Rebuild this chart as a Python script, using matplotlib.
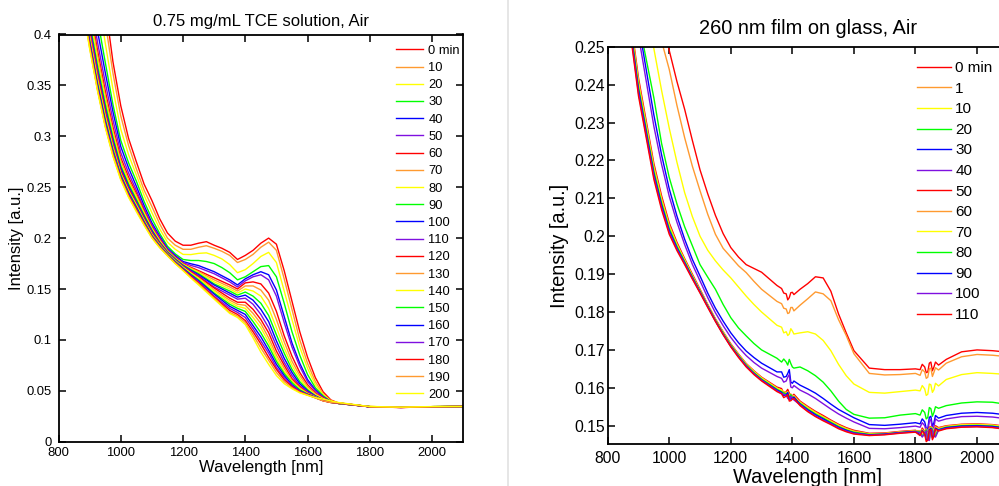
import numpy as np
import matplotlib.pyplot as plt
from matplotlib.lines import Line2D

plt.rcParams['font.family'] = ['Liberation Sans', 'DejaVu Sans']

# colour cycle used by both panels
line_colors = ['#ff0000', '#ff9a30', '#ffff00', '#00ff00', '#0000ff', '#7f10e0']

# ---- left panel: 0.75 mg/mL TCE solution ----
left_wavelength = [860, 900, 925, 950, 975, 1000, 1025, 1050, 1075, 1100, 1125, 1150, 1175,
                   1200, 1225, 1250, 1275, 1300, 1325, 1350, 1375, 1400, 1425, 1450, 1475,
                   1500, 1525, 1550, 1575, 1600, 1625, 1650, 1675, 1700, 1800, 1900, 2000, 2100]
left_labels = ['0 min', '10', '20', '30', '40', '50', '60', '70', '80', '90', '100',
               '110', '120', '130', '140', '150', '160', '170', '180', '190', '200']
left_intensity = [
    [0.62, 0.57, 0.49, 0.43, 0.373, 0.33, 0.298, 0.275, 0.253, 0.237, 0.219, 0.205, 0.197, 0.193, 0.193, 0.195, 0.1965, 0.193, 0.19, 0.186,
     0.179, 0.183, 0.188, 0.195, 0.2, 0.194, 0.168, 0.138, 0.108, 0.083, 0.063, 0.049, 0.041, 0.038, 0.0345, 0.034, 0.0344, 0.0346],
    [0.60, 0.537, 0.468, 0.413, 0.362, 0.32, 0.291, 0.268, 0.247, 0.231, 0.214, 0.2, 0.193, 0.189, 0.189, 0.191, 0.1925, 0.19, 0.187, 0.183,
     0.176, 0.179, 0.184, 0.191, 0.196, 0.188, 0.16, 0.13, 0.1, 0.077, 0.059, 0.047, 0.04, 0.0378, 0.0345, 0.0338, 0.0343, 0.0346],
    [0.58, 0.497, 0.441, 0.392, 0.346, 0.307, 0.282, 0.262, 0.242, 0.225, 0.209, 0.196, 0.189, 0.184, 0.1838, 0.185, 0.1855, 0.183, 0.1795, 0.174,
     0.166, 0.169, 0.175, 0.182, 0.186, 0.176, 0.148, 0.12, 0.093, 0.072, 0.056, 0.046, 0.04, 0.0377, 0.0346, 0.034, 0.0344, 0.0346],
    [0.56, 0.467, 0.416, 0.373, 0.331, 0.296, 0.274, 0.256, 0.236, 0.219, 0.2045, 0.192, 0.1845, 0.179, 0.178, 0.178, 0.177, 0.175, 0.171, 0.166,
     0.159, 0.162, 0.167, 0.172, 0.173, 0.162, 0.136, 0.108, 0.085, 0.066, 0.053, 0.045, 0.0395, 0.0376, 0.0344, 0.0339, 0.0344, 0.0346],
    [0.55, 0.452, 0.404, 0.363, 0.324, 0.29, 0.269, 0.251, 0.232, 0.215, 0.202, 0.19, 0.183, 0.177, 0.1748, 0.173, 0.170, 0.167, 0.163, 0.159,
     0.154, 0.16, 0.164, 0.167, 0.164, 0.149, 0.123, 0.097, 0.077, 0.061, 0.051, 0.044, 0.0393, 0.0375, 0.0343, 0.0338, 0.0343, 0.0346],
    [0.54, 0.438, 0.393, 0.353, 0.316, 0.284, 0.264, 0.247, 0.229, 0.213, 0.2005, 0.189, 0.182, 0.176, 0.1732, 0.171, 0.168, 0.165, 0.161, 0.157,
     0.152, 0.158, 0.162, 0.164, 0.159, 0.143, 0.117, 0.093, 0.074, 0.059, 0.05, 0.0435, 0.0392, 0.0375, 0.0344, 0.0339, 0.0344, 0.0346],
    [0.53, 0.429, 0.385, 0.345, 0.309, 0.279, 0.26, 0.244, 0.227, 0.211, 0.199, 0.188, 0.181, 0.175, 0.1713, 0.168, 0.1645, 0.161, 0.1575, 0.154,
     0.150, 0.156, 0.157, 0.155, 0.146, 0.128, 0.104, 0.084, 0.068, 0.056, 0.048, 0.043, 0.039, 0.0375, 0.0343, 0.0337, 0.0343, 0.0346],
    [0.52, 0.424, 0.380, 0.34, 0.305, 0.276, 0.257, 0.242, 0.2255, 0.21, 0.198, 0.1875, 0.1805, 0.1745, 0.1705, 0.167, 0.163, 0.159, 0.1555, 0.152,
     0.148, 0.153, 0.153, 0.149, 0.139, 0.12, 0.098, 0.079, 0.065, 0.054, 0.047, 0.0425, 0.039, 0.0376, 0.0344, 0.0338, 0.0344, 0.0346],
    [0.515, 0.418, 0.375, 0.336, 0.302, 0.273, 0.255, 0.24, 0.224, 0.209, 0.197, 0.187, 0.18, 0.174, 0.1698, 0.166, 0.1615, 0.157, 0.1535, 0.150,
     0.146, 0.150, 0.148, 0.143, 0.131, 0.112, 0.092, 0.075, 0.062, 0.052, 0.046, 0.042, 0.039, 0.0376, 0.0345, 0.034, 0.0344, 0.0346],
    [0.51, 0.412, 0.370, 0.332, 0.299, 0.271, 0.253, 0.238, 0.2225, 0.208, 0.196, 0.1865, 0.1795, 0.1735, 0.169, 0.165, 0.16, 0.155, 0.1515, 0.148,
     0.144, 0.147, 0.143, 0.136, 0.124, 0.105, 0.087, 0.071, 0.059, 0.051, 0.045, 0.0415, 0.0389, 0.0376, 0.0344, 0.0339, 0.0344, 0.0346],
    [0.505, 0.408, 0.366, 0.328, 0.296, 0.269, 0.251, 0.236, 0.221, 0.207, 0.1955, 0.186, 0.179, 0.173, 0.1683, 0.164, 0.159, 0.154, 0.15, 0.146,
     0.142, 0.144, 0.139, 0.13, 0.118, 0.099, 0.082, 0.068, 0.057, 0.05, 0.045, 0.041, 0.0389, 0.0377, 0.0343, 0.0337, 0.0343, 0.0346],
    [0.50, 0.406, 0.364, 0.326, 0.294, 0.267, 0.2495, 0.235, 0.22, 0.206, 0.195, 0.1855, 0.1785, 0.1725, 0.1675, 0.163, 0.1575, 0.152, 0.148, 0.144,
     0.14, 0.141, 0.135, 0.125, 0.112, 0.094, 0.078, 0.065, 0.055, 0.049, 0.0445, 0.041, 0.0388, 0.0377, 0.0344, 0.0338, 0.0344, 0.0346],
    [0.495, 0.402, 0.361, 0.324, 0.292, 0.266, 0.2485, 0.234, 0.219, 0.205, 0.1945, 0.185, 0.178, 0.172, 0.1668, 0.162, 0.1565, 0.151, 0.146, 0.141,
     0.137, 0.137, 0.13, 0.12, 0.107, 0.089, 0.075, 0.062, 0.054, 0.048, 0.044, 0.041, 0.0388, 0.0378, 0.0343, 0.0336, 0.0343, 0.0346],
    [0.49, 0.40, 0.358, 0.321, 0.29, 0.264, 0.247, 0.233, 0.218, 0.204, 0.1938, 0.1847, 0.1778, 0.1715, 0.166, 0.161, 0.155, 0.149, 0.144, 0.139,
     0.135, 0.134, 0.126, 0.116, 0.102, 0.085, 0.072, 0.06, 0.053, 0.0475, 0.044, 0.0408, 0.0387, 0.0378, 0.0344, 0.0338, 0.0344, 0.0346],
    [0.485, 0.396, 0.355, 0.319, 0.288, 0.263, 0.246, 0.232, 0.217, 0.203, 0.1932, 0.1844, 0.1774, 0.171, 0.1653, 0.16, 0.154, 0.148, 0.1425, 0.137,
     0.133, 0.131, 0.122, 0.112, 0.098, 0.082, 0.069, 0.059, 0.052, 0.047, 0.0438, 0.0406, 0.0387, 0.0379, 0.0345, 0.034, 0.0344, 0.0346],
    [0.48, 0.394, 0.353, 0.317, 0.287, 0.262, 0.245, 0.231, 0.2163, 0.2025, 0.1928, 0.184, 0.177, 0.1705, 0.1645, 0.159, 0.1525, 0.146, 0.1405, 0.135,
     0.131, 0.128, 0.118, 0.107, 0.094, 0.079, 0.067, 0.058, 0.051, 0.0468, 0.0436, 0.0405, 0.0386, 0.0379, 0.0344, 0.0339, 0.0344, 0.0346],
    [0.475, 0.393, 0.351, 0.315, 0.285, 0.261, 0.244, 0.23, 0.2155, 0.202, 0.1923, 0.1837, 0.1765, 0.17, 0.1638, 0.158, 0.1515, 0.145, 0.139, 0.133,
     0.129, 0.125, 0.114, 0.103, 0.09, 0.076, 0.065, 0.056, 0.05, 0.0465, 0.0435, 0.0404, 0.0386, 0.038, 0.0343, 0.0337, 0.0343, 0.0346],
    [0.47, 0.391, 0.349, 0.313, 0.284, 0.26, 0.243, 0.229, 0.2148, 0.2015, 0.1918, 0.1834, 0.176, 0.1695, 0.163, 0.157, 0.15, 0.143, 0.137, 0.131,
     0.127, 0.122, 0.111, 0.099, 0.087, 0.073, 0.063, 0.055, 0.0495, 0.0462, 0.0433, 0.0403, 0.0386, 0.038, 0.0344, 0.0338, 0.0344, 0.0346],
    [0.467, 0.389, 0.347, 0.311, 0.282, 0.259, 0.242, 0.228, 0.214, 0.201, 0.1914, 0.1831, 0.1756, 0.169, 0.1623, 0.156, 0.149, 0.142, 0.1355, 0.129,
     0.125, 0.119, 0.108, 0.096, 0.083, 0.071, 0.061, 0.054, 0.049, 0.046, 0.0432, 0.0402, 0.0385, 0.0381, 0.0343, 0.0336, 0.0343, 0.0346],
    [0.463, 0.387, 0.346, 0.310, 0.281, 0.258, 0.241, 0.227, 0.2133, 0.2005, 0.191, 0.1828, 0.1752, 0.1685, 0.1615, 0.155, 0.148, 0.141, 0.134, 0.127,
     0.1235, 0.117, 0.105, 0.092, 0.08, 0.068, 0.059, 0.053, 0.0485, 0.0458, 0.043, 0.0401, 0.0385, 0.0382, 0.0344, 0.0338, 0.0344, 0.0346],
    [0.46, 0.386, 0.345, 0.309, 0.28, 0.257, 0.24, 0.226, 0.2125, 0.2, 0.1905, 0.1825, 0.1748, 0.168, 0.1608, 0.154, 0.147, 0.140, 0.133, 0.126,
     0.122, 0.115, 0.102, 0.088, 0.076, 0.065, 0.057, 0.052, 0.048, 0.0455, 0.0433, 0.0418, 0.040, 0.0385, 0.0345, 0.034, 0.0345, 0.0346],
]

# ---- right panel: 260 nm film on glass ----
right_wavelength = [860, 900, 950, 975, 1000, 1025, 1050, 1075, 1100, 1125, 1150, 1175, 1200,
                    1225, 1250, 1275, 1300, 1350, 1380, 1390, 1400, 1425, 1450, 1475, 1500,
                    1525, 1550, 1575, 1600, 1650, 1700, 1750, 1800, 1830, 1840, 1850, 1860,
                    1900, 1950, 2000, 2050, 2100]
right_labels = ['0 min', '1', '10', '20', '30', '40', '50', '60', '70', '80', '90', '100', '110']
right_intensity = [
    [0.31, 0.29, 0.268, 0.2575, 0.249, 0.2408, 0.2335, 0.2253, 0.2175, 0.2112, 0.2055, 0.2007, 0.197, 0.1945, 0.1925, 0.1915, 0.1905,
     0.187, 0.1848, 0.1838, 0.1852, 0.186, 0.1875, 0.1893, 0.189, 0.1855, 0.1795, 0.1745, 0.1698, 0.1652, 0.1648, 0.1648, 0.165, 0.1655, 0.1642, 0.1668, 0.1655, 0.1675, 0.1695, 0.170, 0.1698, 0.1694],
    [0.30, 0.28, 0.26, 0.2515, 0.244, 0.2345, 0.226, 0.2185, 0.212, 0.2058, 0.2005, 0.1968, 0.1945, 0.1922, 0.1904, 0.1881, 0.186,
     0.1828, 0.1808, 0.1798, 0.1812, 0.1818, 0.1835, 0.1853, 0.1848, 0.183, 0.178, 0.1738, 0.169, 0.1638, 0.1634, 0.1635, 0.1638, 0.1642, 0.1628, 0.1652, 0.1641, 0.1665, 0.1682, 0.1688, 0.1686, 0.1682],
    [0.29, 0.27, 0.2495, 0.2385, 0.2285, 0.2195, 0.2115, 0.2052, 0.2, 0.1963, 0.1935, 0.1911, 0.189, 0.1866, 0.1842, 0.182, 0.18,
     0.1765, 0.1748, 0.1742, 0.175, 0.1745, 0.1748, 0.1742, 0.1725, 0.1698, 0.1662, 0.1632, 0.161, 0.1588, 0.1586, 0.159, 0.1594, 0.1597, 0.1583, 0.1608, 0.1595, 0.1622, 0.1635, 0.164, 0.1638, 0.1635],
    [0.28, 0.257, 0.2365, 0.2245, 0.2155, 0.2085, 0.2025, 0.1975, 0.1925, 0.1892, 0.186, 0.182, 0.1785, 0.1758, 0.1737, 0.1717, 0.17,
     0.1678, 0.1668, 0.1675, 0.1655, 0.1655, 0.1645, 0.1632, 0.1615, 0.1592, 0.1565, 0.1543, 0.153, 0.152, 0.1521, 0.1528, 0.1532, 0.1535, 0.1522, 0.1545, 0.1535, 0.1553, 0.156, 0.1563, 0.1562, 0.1556],
    [0.278, 0.256, 0.232, 0.2215, 0.2125, 0.2053, 0.1992, 0.1939, 0.1895, 0.185, 0.181, 0.1776, 0.1745, 0.1719, 0.1697, 0.168, 0.1665,
     0.1642, 0.163, 0.1648, 0.1612, 0.1607, 0.1597, 0.1586, 0.1572, 0.1557, 0.1543, 0.1532, 0.1521, 0.1503, 0.1501, 0.1504, 0.1508, 0.151, 0.1492, 0.1525, 0.1508, 0.1527, 0.1533, 0.1535, 0.1533, 0.1528],
    [0.275, 0.253, 0.229, 0.219, 0.2105, 0.2037, 0.1978, 0.1926, 0.1882, 0.1838, 0.1798, 0.1764, 0.1733, 0.1707, 0.1685, 0.1667, 0.1652,
     0.163, 0.1618, 0.1635, 0.16, 0.1594, 0.1584, 0.1572, 0.1558, 0.1544, 0.1531, 0.152, 0.151, 0.1493, 0.1492, 0.1495, 0.1499, 0.15, 0.1484, 0.1516, 0.1498, 0.1518, 0.1524, 0.1525, 0.1523, 0.1518],
    [0.2659, 0.2418, 0.2192, 0.2107, 0.2035, 0.1984, 0.1941, 0.19, 0.186, 0.182, 0.1782, 0.1748, 0.1716, 0.1689, 0.1664, 0.1645, 0.1628,
     0.1602, 0.159, 0.1586, 0.1579, 0.1565, 0.1551, 0.1538, 0.1527, 0.1515, 0.1504, 0.1495, 0.1488, 0.148, 0.1481, 0.1485, 0.1488, 0.1485, 0.1469, 0.1498, 0.148, 0.15, 0.1504, 0.1505, 0.1503, 0.1498],
    [0.2653, 0.241, 0.2185, 0.21, 0.203, 0.198, 0.1938, 0.1897, 0.1858, 0.1819, 0.1781, 0.1747, 0.1714, 0.1688, 0.1663, 0.1644, 0.1627,
     0.16, 0.1588, 0.1583, 0.1578, 0.1563, 0.1549, 0.1536, 0.1524, 0.1513, 0.1502, 0.1493, 0.1486, 0.1479, 0.148, 0.1484, 0.1487, 0.1484, 0.1467, 0.1497, 0.1478, 0.1499, 0.1503, 0.1504, 0.1502, 0.1497],
    [0.2646, 0.2402, 0.2178, 0.2094, 0.2025, 0.1977, 0.1936, 0.1895, 0.1856, 0.1818, 0.178, 0.1746, 0.1713, 0.1686, 0.1661, 0.1642, 0.1625,
     0.1598, 0.1586, 0.1579, 0.1576, 0.1561, 0.1546, 0.1534, 0.1522, 0.1511, 0.15, 0.1491, 0.1484, 0.1478, 0.1479, 0.1483, 0.1486, 0.1482, 0.1466, 0.1495, 0.1477, 0.1497, 0.1502, 0.1503, 0.1501, 0.1496],
    [0.264, 0.2394, 0.2171, 0.2088, 0.202, 0.1973, 0.1933, 0.1893, 0.1855, 0.1816, 0.1778, 0.1744, 0.1712, 0.1685, 0.166, 0.164, 0.1623,
     0.1596, 0.1584, 0.1576, 0.1575, 0.1559, 0.1544, 0.1531, 0.152, 0.1509, 0.1498, 0.1489, 0.1483, 0.1477, 0.1478, 0.1482, 0.1485, 0.1481, 0.1465, 0.1494, 0.1476, 0.1496, 0.15, 0.1501, 0.1499, 0.1494],
    [0.2633, 0.2386, 0.2164, 0.2082, 0.2015, 0.1969, 0.193, 0.1891, 0.1853, 0.1815, 0.1777, 0.1742, 0.171, 0.1683, 0.1658, 0.1638, 0.1621,
     0.1594, 0.1582, 0.1572, 0.1573, 0.1557, 0.1542, 0.1529, 0.1518, 0.1507, 0.1496, 0.1488, 0.1481, 0.1476, 0.1478, 0.1482, 0.1485, 0.148, 0.1464, 0.1493, 0.1475, 0.1495, 0.1499, 0.15, 0.1498, 0.1493],
    [0.2627, 0.2378, 0.2157, 0.2076, 0.201, 0.1966, 0.1928, 0.1889, 0.1852, 0.1814, 0.1776, 0.1741, 0.1709, 0.1682, 0.1657, 0.1637, 0.162,
     0.1592, 0.158, 0.1569, 0.1572, 0.1555, 0.1539, 0.1526, 0.1515, 0.1505, 0.1494, 0.1486, 0.148, 0.1475, 0.1477, 0.1481, 0.1484, 0.1479, 0.1463, 0.1491, 0.1473, 0.1493, 0.1497, 0.1498, 0.1496, 0.1491],
    [0.262, 0.237, 0.215, 0.207, 0.2005, 0.1962, 0.1925, 0.1887, 0.185, 0.1812, 0.1775, 0.174, 0.1708, 0.168, 0.1655, 0.1635, 0.1618,
     0.159, 0.1578, 0.1565, 0.157, 0.1553, 0.1537, 0.1524, 0.1513, 0.1503, 0.1492, 0.1484, 0.1478, 0.1474, 0.1476, 0.148, 0.1483, 0.1478, 0.1462, 0.149, 0.1472, 0.1492, 0.1496, 0.1497, 0.1495, 0.149],
]

# extra readings inside the two noisy bands (~1390 nm and ~1840 nm) of the film spectra
right_noise_wavelength = [1365, 1372, 1385, 1395, 1405, 1815, 1822, 1835, 1845, 1855, 1865, 1875]
right_noise_intensity = [
    [0.1862, 0.1850, 0.1832, 0.1851, 0.1846, 0.1648, 0.1662, 0.1640, 0.1665, 0.1645, 0.1668, 0.1660],
    [0.1822, 0.1810, 0.1796, 0.1812, 0.1803, 0.1633, 0.1648, 0.1625, 0.1650, 0.1630, 0.1653, 0.1647],
    [0.1760, 0.1745, 0.1738, 0.1756, 0.1742, 0.1592, 0.1606, 0.1580, 0.1610, 0.1588, 0.1612, 0.1605],
    [0.1668, 0.1676, 0.1660, 0.1664, 0.1652, 0.1528, 0.1542, 0.1518, 0.1548, 0.1525, 0.1550, 0.1546],
    [0.1642, 0.1628, 0.1638, 0.1615, 0.1618, 0.1505, 0.1518, 0.1493, 0.1522, 0.1498, 0.1527, 0.1520],
    [0.1625, 0.1615, 0.1628, 0.1602, 0.1606, 0.1496, 0.1508, 0.1486, 0.1512, 0.1490, 0.1518, 0.1512],
    [0.1598, 0.1585, 0.1596, 0.1578, 0.1583, 0.1480, 0.1494, 0.1470, 0.1496, 0.1474, 0.1500, 0.1495],
    [0.1592, 0.1590, 0.1580, 0.1584, 0.1575, 0.1487, 0.1476, 0.1492, 0.1468, 0.1495, 0.1478, 0.1494],
    [0.1594, 0.1582, 0.1590, 0.1574, 0.1579, 0.1478, 0.1490, 0.1466, 0.1493, 0.1470, 0.1497, 0.1491],
    [0.1590, 0.1586, 0.1577, 0.1582, 0.1571, 0.1484, 0.1472, 0.1489, 0.1464, 0.1491, 0.1474, 0.1490],
    [0.1588, 0.1579, 0.1588, 0.1570, 0.1576, 0.1476, 0.1488, 0.1463, 0.1490, 0.1468, 0.1494, 0.1489],
    [0.1585, 0.1583, 0.1572, 0.1578, 0.1568, 0.1482, 0.1470, 0.1486, 0.1461, 0.1488, 0.1470, 0.1488],
    [0.1584, 0.1574, 0.1582, 0.1566, 0.1572, 0.1474, 0.1486, 0.1458, 0.1487, 0.1463, 0.1491, 0.1486],
]

fig = plt.figure(figsize=(9.99, 4.86), dpi=100)

# thin grey divider between the two screenshots
fig.add_artist(Line2D([507.7 / 999, 507.7 / 999], [0, 1], color='#e2e2e2', lw=1.2))


def style_axes(ax, tick_size, pad_x, pad_y):
    for sp in ax.spines.values():
        sp.set_linewidth(1.3)
    ax.tick_params(direction='in', top=True, right=True, length=5, width=1.1,
                   labelsize=tick_size, colors='black')
    ax.tick_params(axis='x', pad=pad_x)
    ax.tick_params(axis='y', pad=pad_y)


# left panel
ax1 = fig.add_axes([58.5 / 999, 1 - 441.7 / 486, (463.2 - 58.5) / 999, (441.7 - 34.5) / 486])
for i, vals in enumerate(left_intensity):
    ax1.plot(left_wavelength, vals, color=line_colors[i % 6], lw=1.0, label=left_labels[i])
ax1.set_xlim(800, 2100)
ax1.set_ylim(0, 0.4)
ax1.set_xticks([800, 1000, 1200, 1400, 1600, 1800, 2000])
ax1.set_yticks([0, 0.05, 0.1, 0.15, 0.2, 0.25, 0.3, 0.35, 0.4])
ax1.set_yticklabels(['0', '0.05', '0.1', '0.15', '0.2', '0.25', '0.3', '0.35', '0.4'])
style_axes(ax1, 9.4, 3.5, 5)
ax1.set_title('0.75 mg/mL TCE solution, Air', fontsize=12, pad=6)
ax1.set_xlabel('Wavelength [nm]', fontsize=12, labelpad=1)
ax1.set_ylabel('Intensity [a.u.]', fontsize=12, labelpad=2)
ax1.legend(loc='upper left', bbox_to_anchor=(396 / 999, 1 - 44.8 / 486),
           bbox_transform=fig.transFigure, frameon=False, fontsize=9.3,
           handlelength=2.1, handletextpad=0.4, labelspacing=0.4,
           borderpad=0, borderaxespad=0)

# right panel (cut off at the right edge of the picture)
ax2 = fig.add_axes([607.7 / 999, 1 - 444.3 / 486, (1007.8 - 607.7) / 999, (444.3 - 46.7) / 486])
for i, vals in enumerate(right_intensity):
    wl = np.array(right_wavelength + right_noise_wavelength)
    iv = np.array(vals + right_noise_intensity[i])
    order = np.argsort(wl)
    ax2.plot(wl[order], iv[order], color=line_colors[i % 6], lw=1.0, label=right_labels[i])
ax2.set_xlim(800, 2100)
ax2.set_ylim(0.1451, 0.25)
ax2.set_xticks([800, 1000, 1200, 1400, 1600, 1800, 2000])
ax2.set_yticks([0.15, 0.16, 0.17, 0.18, 0.19, 0.2, 0.21, 0.22, 0.23, 0.24, 0.25])
ax2.set_yticklabels(['0.15', '0.16', '0.17', '0.18', '0.19', '0.2', '0.21', '0.22',
                     '0.23', '0.24', '0.25'])
style_axes(ax2, 11.3, 5, 2)
ax2.set_title('260 nm film on glass, Air', fontsize=14.4, pad=9)
ax2.set_xlabel('Wavelength [nm]', fontsize=14.4, labelpad=1)
ax2.set_ylabel('Intensity [a.u.]', fontsize=14.4, labelpad=4)
ax2.legend(loc='upper left', bbox_to_anchor=(917 / 999, 1 - 61.2 / 486),
           bbox_transform=fig.transFigure, frameon=False, fontsize=11,
           handlelength=2.2, handletextpad=0.3, labelspacing=0.43,
           borderpad=0, borderaxespad=0)

fig.savefig('out.png', dpi=100)
